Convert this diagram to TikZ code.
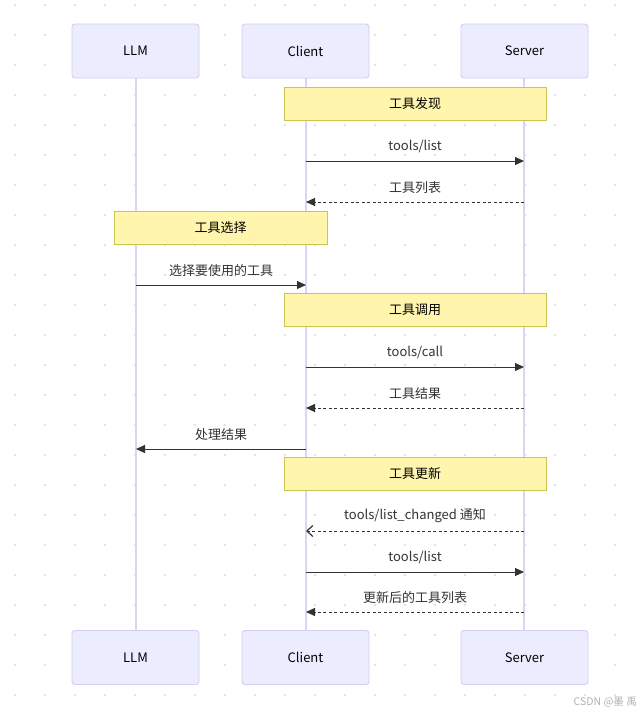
\documentclass[tikz,border=0pt]{standalone}
\usepackage{fontspec}
\setmainfont{Noto Sans CJK SC}
\usetikzlibrary{arrows.meta}
\definecolor{actfill}{HTML}{ECECFF}
\definecolor{actdraw}{HTML}{D4CCF2}
\definecolor{lifeline}{HTML}{DCD4F6}
\definecolor{notefill}{HTML}{FFF5AD}
\definecolor{notedraw}{HTML}{C8C850}
\definecolor{msg}{HTML}{333333}
\definecolor{dotc}{HTML}{E2E2E2}
\tikzset{
  actor/.style={draw=actdraw, fill=actfill, line width=0.9pt, rounded corners=3pt, minimum width=127pt, minimum height=54pt, inner sep=0pt, font=\fontsize{13}{15}\selectfont, text=black},
  notebox/.style={draw=notedraw, fill=notefill, line width=0.9pt, minimum height=33pt, inner sep=0pt, font=\fontsize{13}{15}\selectfont, text=black},
  life/.style={draw=lifeline, line width=1.6pt},
  sync/.style={draw=msg, line width=1pt, -{Triangle[length=9pt,width=8pt]}},
  reply/.style={draw=msg, line width=1pt, dash pattern=on 3pt off 2.5pt, -{Triangle[length=9pt,width=8pt]}},
  replyopen/.style={draw=msg, line width=1pt, dash pattern=on 3pt off 2.5pt, -{Straight Barb[length=6pt,width=11pt,line width=1.2pt]}},
  lbl/.style={font=\fontsize{13}{15}\selectfont, text=msg, inner sep=0pt},
}
\begin{document}
\begin{tikzpicture}[x=1pt,y=-1pt]
\useasboundingbox (0,0) rectangle (642,713);
\fill[white] (0,0) rectangle (642,713);
% background dots
\foreach \i in {0,...,20} {
  \foreach \j in {0,...,23} {
    \fill[dotc] (15+30*\i,5+30*\j) circle (1.4pt);
  }
}
% lifelines
\coordinate (lt) at (136,78); \coordinate (lb) at (136,630);
\coordinate (ct) at (306,78); \coordinate (cb) at (306,630);
\coordinate (st) at (524,78); \coordinate (sb) at (524,630);
\draw[life] (lt) -- (lb);
\draw[life] (ct) -- (cb);
\draw[life] (st) -- (sb);
% actors
\node[actor] (llmT) at (135.5,51) {LLM};
\node[actor] (cliT) at (305.5,51) {Client};
\node[actor] (srvT) at (524.5,51) {Server};
\node[actor] (llmB) at (135.5,657.5) {LLM};
\node[actor] (cliB) at (305.5,657.5) {Client};
\node[actor] (srvB) at (524.5,657.5) {Server};
% notes
\node[notebox, minimum width=262pt] (n1) at (415,103.5) {工具发现};
\node[notebox, minimum width=213pt] (n2) at (220.5,227.5) {工具选择};
\node[notebox, minimum width=262pt] (n3) at (415,309.5) {工具调用};
\node[notebox, minimum width=262pt] (n4) at (415,473.5) {工具更新};
% message anchors
\foreach \n/\y in {1/161,2/202,3/285,4/367,5/408,6/449,7/531,8/572,9/612} {
  \coordinate (L\n) at (136,\y);
  \coordinate (C\n) at (306,\y);
  \coordinate (S\n) at (524,\y);
}
\draw[sync] (C1) -- (S1) node[lbl, midway, above=8pt] (m1) {tools/list};
\draw[reply] (S2) -- (C2) node[lbl, midway, above=8pt] (m2) {工具列表};
\draw[sync] (L3) -- (C3) node[lbl, midway, above=8pt] (m3) {选择要使用的工具};
\draw[sync] (C4) -- (S4) node[lbl, midway, above=8pt] (m4) {tools/call};
\draw[reply] (S5) -- (C5) node[lbl, midway, above=8pt] (m5) {工具结果};
\draw[sync] (C6) -- (L6) node[lbl, midway, above=8pt] (m6) {处理结果};
\draw[replyopen] (S7) -- (C7) node[lbl, midway, above=8pt] (m7) {tools/list\_changed 通知};
\draw[sync] (C8) -- (S8) node[lbl, midway, above=8pt] (m8) {tools/list};
\draw[reply] (S9) -- (C9) node[lbl, midway, above=8pt] (m9) {更新后的工具列表};
% watermark
\node[font=\fontsize{10.5}{12}\selectfont, text=black!30, anchor=east, inner sep=0pt] (wm) at (637,702) {CSDN @墨 禹};
\end{tikzpicture}
\end{document}
